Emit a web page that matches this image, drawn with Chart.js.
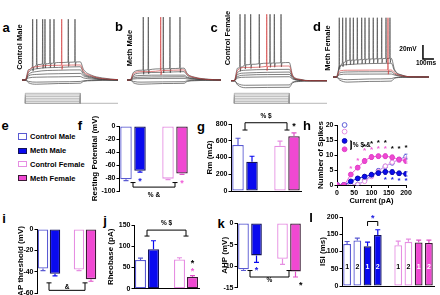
<!DOCTYPE html>
<html><head><meta charset="utf-8">
<script src="https://cdn.jsdelivr.net/npm/chart.js@4.4.1/dist/chart.umd.min.js"></script>
<style>
html,body{margin:0;padding:0;background:#fff;}
body{width:440px;height:295px;overflow:hidden;position:relative;font-family:'Liberation Sans',Arial,sans-serif;}
.tx{position:absolute;font-weight:bold;color:#000;white-space:nowrap;line-height:1;transform:translate(-50%,-50%);}
.pl{font-size:13px;}
.rl{font-size:7.5px;transform:translate(-50%,-50%) rotate(-90deg);}
.lg{position:absolute;font-size:7.5px;font-weight:bold;line-height:1;white-space:nowrap;transform:translateY(-50%);}
.sw{position:absolute;width:7px;height:4.5px;border:1.5px solid;}
</style></head><body>
<script>
// ---------------- DATA ----------------
const groups = ['Control Male','Meth Male','Control Female','Meth Female'];
const barSlots = ['Control Male','Meth Male','','Control Female','Meth Female'];

const restingPotential = [-82,-69,null,-81,-73];
const restingPotentialErr = [2,2,0,1.5,1.5];
const rmValues = [550,350,null,540,655];
const rmErr = [80,65,0,55,40];
const apThreshold = [-37,-42,null,-38,-47];
const apThresholdErr = [2,2,0,1,2];
const rheobase = [68,93,null,69,28];
const rheobaseErr = [4,20,0,4,3];
const ahp = [-10.7,-7.5,null,-8.3,-11.2];
const ahpErr = [0.3,1.6,0,1.3,1.3];

const isiSlots = ['Control Male 1','Control Male 2','Meth Male 1','Meth Male 2','','Control Female 1','Control Female 2','Meth Female 1','Meth Female 2'];
const isiValues = [122,132,115,148,null,118,128,126,125];
const isiErr = [7,7,12,15,0,12,8,7,8];
const isiBarLabels = ['1','2','1','2','','1','2','1','2'];

const currentSteps = [0,20,40,60,80,100,120,140,160,180,200];
const spikesControlMale   = [0,0,0,0.2,1.5,3.2,4.8,6.2,7.4,8.5,9.5];
const spikesMethMale      = [0,0,1.2,2.2,2.8,3.4,4.0,4.4,4.3,3.9,3.7];
const spikesControlFemale = [0,0,0,0.1,1.2,2.8,4.5,6.3,7.6,8.3,8.6];
const spikesMethFemale    = [0,0,3.5,5.8,8.0,9.3,9.6,9.6,9.2,8.5,8.0];
const errControlMale   = [0,0,0,0.2,0.4,0.5,0.6,0.6,0.7,0.7,0.8];
const errMethMale      = [0,0,0.3,0.6,0.7,0.8,0.8,0.9,0.8,0.7,0.7];
const errControlFemale = [0,0,0,0.1,0.4,0.5,0.6,0.6,0.7,0.7,0.7];
const errMethFemale    = [0,0,0.5,0.7,0.8,0.8,0.7,0.8,0.8,0.7,0.7];
const starsBlackX = [80,100,120,140,160,180,200];
const starsBlackY = [13.6,14.4,14.7,14.7,12.8,12.8,13.0];
const starsPinkX  = [40,60,80,100,120,140];
const starsPinkY  = [6.3,8.7,12.0,12.5,12.8,12.8];
const starsBlueX  = [140,160,180,200];
const starsBlueY  = [2.6,2.5,2.2,2.2];

// voltage traces (ms / mV)
const traceTimes = [-30,0,30,100,300,500,530,600,700,843];
const tracesA = [
 [-65,-65,-50,-43,-40,-39,-50,-58,-62,-64.5],
 [-65,-65,-52,-46,-44,-43.5,-53,-59,-63,-64.5],
 [-65,-65,-54,-49,-47,-46,-55,-60,-63,-65],
 [-65,-65,-57,-53,-51,-50.5,-57,-61,-64,-65],
 [-65,-65,-59,-57,-56,-55.5,-59,-62,-64,-65],
 [-65,-65,-62,-61,-60.5,-60,-62,-63.5,-64.5,-65],
 [-65,-65,-67,-68,-67.5,-67,-66,-65.5,-65,-65],
 [-65,-65,-69,-71,-70,-69.5,-67,-66,-65.5,-65]];
const spikesA = [67,104,158,179,225,261,391,452];
const redSpikesA = [331];
const tracesB = [
 [-65,-65,-54,-51,-49,-48,-56,-61,-63.5,-65],
 [-65,-65,-56,-53,-51.5,-50.5,-57,-61.5,-64,-65],
 [-65,-65,-58,-55,-54,-53,-58.5,-62,-64,-65],
 [-65,-65,-60,-58.5,-58,-58,-61,-63,-64.5,-65],
 [-65,-65,-62,-61,-60.5,-60.3,-62,-63.5,-64.5,-65],
 [-65,-65,-63.5,-63,-62.7,-62.6,-63.5,-64,-64.7,-65],
 [-65,-65,-67,-68,-67.6,-67.4,-66,-65.5,-65.2,-65],
 [-65,-65,-69,-71,-70,-69.7,-67,-66,-65.4,-65]];
const spikesB = [121,168,307,369,462];
const redSpikesB = [283];
const tracesC = [
 [-66,-66,-48,-43,-41,-40,-58,-64,-66,-66],
 [-66,-66,-51,-47,-45.5,-45,-59,-64.5,-66,-66],
 [-66,-66,-54,-51,-50,-49.7,-60,-65,-66,-66],
 [-66,-66,-57,-55,-54,-53.6,-61,-65,-66,-66],
 [-66,-66,-60,-58,-57.2,-57,-62.5,-65.5,-66,-66],
 [-66,-66,-62,-61,-60.5,-60.3,-63.5,-65.5,-66,-66],
 [-66,-66,-70,-72.5,-72.2,-72,-68,-66.5,-66,-66],
 [-66,-66,-72,-76,-75.6,-75.4,-69,-67,-66,-66]];
const spikesC = [52,97,149,227,325,364,425];
const redSpikesC = [295];
const tracesD = [
 [-60.7,-60.7,-42,-37,-35,-34,-50,-58,-60.5,-60.7],
 [-60.7,-60.7,-46,-43,-41.5,-41,-52,-58.5,-60.5,-60.7],
 [-60.7,-60.7,-52,-51,-50.8,-50.7,-55,-59,-60.5,-60.7],
 [-60.7,-60.7,-55,-53.5,-53.2,-53.1,-56.5,-59.5,-60.6,-60.7],
 [-60.7,-60.7,-57.5,-56.6,-56.5,-56.4,-58,-60,-60.6,-60.7],
 [-60.7,-60.7,-63,-64.5,-63.5,-63,-61.5,-61,-60.7,-60.7],
 [-60.7,-60.7,-65,-68,-67,-66.5,-62.5,-61.2,-60.8,-60.7]];
const spikesD = [27,58,88,125,155,191,231,261,298,336,373,413,452,488];
const redSpikesD = [470];
const protocolSteps = [0,20,40,60,80,100,120];
const scaleBarMs = 100, scaleBarMv = 20;

// ---------------- STYLE ----------------
const CM_B='#5a5ad2', MM_F='#0a0aef', MM_B='#12125a', CF_B='#e68ee2', MF_F='#f048d2', MF_B='#3a1a34';
const BLUE_STAR='#2020e0', PINK_STAR='#f060d8';
Chart.defaults.font.family="'Liberation Sans', Arial, sans-serif";
Chart.defaults.font.weight='bold';
Chart.defaults.color='#000';
Chart.defaults.animation=false;
Chart.defaults.responsive=false;
Chart.defaults.maintainAspectRatio=false;
Chart.defaults.plugins.legend.display=false;
Chart.defaults.plugins.tooltip.enabled=false;

function mkCanvas(l,t,w,h){const c=document.createElement('canvas');c.width=w;c.height=h;c.style.cssText=`position:absolute;left:${l}px;top:${t}px;width:${w}px;height:${h}px`;document.body.appendChild(c);return c;}
function txt(s,x,y,cls,extra){const d=document.createElement('div');d.className='tx '+(cls||'');d.textContent=s;d.style.left=x+'px';d.style.top=y+'px';if(extra)d.style.cssText+=extra;document.body.appendChild(d);return d;}

const annot={
 id:'annot',
 beforeDatasetsDraw(chart){
  const o=chart.options.plugins.annot;if(!o||!o.lineErr)return;
  const ctx=chart.ctx,ys=chart.scales.y;ctx.save();
  o.lineErr.forEach((errs,di)=>{
   const meta=chart.getDatasetMeta(di);ctx.strokeStyle=o.lineErrColors[di];ctx.lineWidth=0.8;
   meta.data.forEach((p,i)=>{const e=errs[i];if(!e)return;const v=chart.data.datasets[di].data[i].y;
    const a=ys.getPixelForValue(v+e),b=ys.getPixelForValue(v-e);
    ctx.beginPath();ctx.moveTo(p.x,a);ctx.lineTo(p.x,b);ctx.moveTo(p.x-1.5,a);ctx.lineTo(p.x+1.5,a);ctx.moveTo(p.x-1.5,b);ctx.lineTo(p.x+1.5,b);ctx.stroke();});
  });ctx.restore();
 },
 afterDatasetsDraw(chart){
  const o=chart.options.plugins.annot;if(!o)return;
  const ctx=chart.ctx,xs=chart.scales.x,ys=chart.scales.y;
  const X=v=>xs.getPixelForValue(v),Y=v=>ys.getPixelForValue(v);
  ctx.save();
  if(o.barErr){
   const meta=chart.getDatasetMeta(0);
   meta.data.forEach((el,i)=>{const v=chart.data.datasets[0].data[i],e=o.barErr[i];if(v==null||!e)return;
    const end=v<0?v-e:v+e,y1=Y(v),y2=Y(end);ctx.strokeStyle=o.errColors[i];ctx.lineWidth=1.2;
    ctx.beginPath();ctx.moveTo(el.x,y1);ctx.lineTo(el.x,y2);ctx.moveTo(el.x-2.5,y2);ctx.lineTo(el.x+2.5,y2);ctx.stroke();});
  }
  (o.brackets||[]).forEach(b=>{const x1=X(b.x1),x2=X(b.x2),yh=Y(b.y),yt=Y(b.y2);
   ctx.strokeStyle=b.c||'#000';ctx.lineWidth=1;ctx.beginPath();
   ctx.moveTo(x1,yt);ctx.lineTo(x1,yh);ctx.lineTo(x2,yh);ctx.lineTo(x2,yt);
   if(b.cap){ctx.moveTo(x1-2.5,yt);ctx.lineTo(x1+2.5,yt);ctx.moveTo(x2-2.5,yt);ctx.lineTo(x2+2.5,yt);}
   ctx.stroke();});
  (o.legendPts||[]).forEach(p=>{ctx.beginPath();ctx.arc(X(p.x),Y(p.y),2.4,0,Math.PI*2);ctx.fillStyle=p.fill;ctx.fill();ctx.strokeStyle=p.stroke;ctx.lineWidth=1;ctx.stroke();});
  (o.texts||[]).forEach(t=>{const s=t.s||7;ctx.font=`bold ${s}px 'Liberation Sans', Arial, sans-serif`;ctx.fillStyle=t.c||'#000';ctx.textAlign=t.a||'center';ctx.textBaseline='middle';
   const dy=t.t==='*'?s*0.28:0;ctx.fillText(t.t,X(t.x),Y(t.y)+dy);});
  if(o.barTexts){const meta=chart.getDatasetMeta(0);ctx.font="bold 7px 'Liberation Sans', Arial, sans-serif";ctx.textAlign='center';ctx.textBaseline='middle';
   meta.data.forEach((el,i)=>{const s=o.barTexts[i];if(!s)return;ctx.fillStyle=o.barTextColors[i];ctx.fillText(s,el.x,Y(o.barTextY));});}
  ctx.restore();
 }
};

// ---------------- TRACE PANELS ----------------
function levelAt(vals,t){for(let j=1;j<traceTimes.length;j++){if(t<=traceTimes[j]){const t0=traceTimes[j-1],t1=traceTimes[j];return vals[j-1]+(vals[j]-vals[j-1])*(t-t0)/(t1-t0);}}return vals[vals.length-1];}
function traceChart(l,w,traces,redIdx,spikes,redSpikes,peak,xmax,extra){
 const c=mkCanvas(l,8,w,84);const ds=[];
 traces.forEach((vals,i)=>{
  const sp=i===0?spikes:(i===redIdx?redSpikes:[]);
  let pts=traceTimes.map((t,j)=>({x:t,y:vals[j]})).filter(p=>!sp.some(s=>p.x>=s-4&&p.x<=s+10));
  sp.forEach(s=>{const b=levelAt(vals,s);pts.push({x:s-3,y:b},{x:s,y:peak},{x:s+3,y:b-6},{x:s+9,y:b});});
  pts.sort((a,b)=>a.x-b.x);
  ds.push({data:pts,borderColor:i===redIdx?'#d03a3a':'#3a3a3a',borderWidth:0.65,pointRadius:0,cubicInterpolationMode:'monotone',order:i===redIdx?0:1});
 });
 if(extra)ds.push(extra);
 new Chart(c,{type:'line',data:{datasets:ds},options:{parsing:false,layout:{padding:0},scales:{x:{type:'linear',display:false,min:-30,max:xmax},y:{display:false,min:-82.1,max:37.9}}}});
}
function protocolChart(l,w){
 const c=mkCanvas(l,92,w,12);const ds=[];
 protocolSteps.forEach(I=>ds.push({data:[{x:0,y:0},{x:0,y:I},{x:500,y:I},{x:500,y:0}],borderColor:'#9a9a9a',borderWidth:0.7,pointRadius:0}));
 ds.push({data:[{x:0,y:0},{x:843,y:0}],borderColor:'#9a9a9a',borderWidth:0.7,pointRadius:0});
 new Chart(c,{type:'line',data:{datasets:ds},options:{parsing:false,layout:{padding:0},scales:{x:{type:'linear',display:false,min:-30,max:843},y:{display:false,min:-8.4,max:135.6}}}});
}
traceChart(22,96,tracesA,1,spikesA,redSpikesA,22,843);
traceChart(127,94,tracesB,1,spikesB,redSpikesB,25,843);
traceChart(231,96,tracesC,1,spikesC,redSpikesC,29,843);
traceChart(333,102,tracesD,2,spikesD,redSpikesD,24,897.6,
 {data:[{x:788,y:-15},{x:788,y:-15-scaleBarMv},{x:788+scaleBarMs,y:-15-scaleBarMv}],borderColor:'#000',borderWidth:1.5,pointRadius:0,order:-1});
protocolChart(22,96);
protocolChart(231,96);

txt('a',6,27,'pl');txt('b',119,26,'pl');txt('c',214,27,'pl');txt('d',317,26,'pl');
txt('Control Male',20,47,'rl');txt('Meth Male',130,48,'rl');txt('Control Female',228,38,'rl');txt('Meth Female',328,48,'rl');
txt('20mV',408,49,'','font-size:6.5px');txt('100ms',426,63,'','font-size:6.5px');

// ---------------- LEGEND e ----------------
txt('e',5,125,'pl');
const swFill=['#fff',MM_F,'#fff',MF_F],swBorder=[CM_B,MM_B,CF_B,MF_B],swY=[137,151.3,164.7,178.7];
groups.forEach((g,i)=>{const s=document.createElement('div');s.className='sw';s.style.left='18px';s.style.top=(swY[i]-3.75)+'px';s.style.background=swFill[i];s.style.borderColor=swBorder[i];document.body.appendChild(s);
 const d=document.createElement('div');d.className='lg';d.textContent=g;d.style.left='30px';d.style.top=swY[i]+'px';document.body.appendChild(d);});

// ---------------- BAR PANELS ----------------
const fill5=['#fff',MM_F,'#fff','#fff',MF_F],border5=[CM_B,MM_B,'#fff',CF_B,MF_B],err5=[CM_B,MM_F,'#fff',CF_B,'#e050c8'];
function barChart(o){
 const c=mkCanvas(o.l,o.t,o.w,o.h);
 return new Chart(c,{type:'bar',
  data:{labels:o.labels,datasets:[{data:o.values,backgroundColor:o.fill,borderColor:o.border,borderWidth:1.3,borderSkipped:false,categoryPercentage:1,barPercentage:o.bp}]},
  options:{layout:{padding:{top:o.pt,bottom:o.pb,left:0,right:o.pr}},
   scales:{
    x:{display:o.xLine,grid:{display:false,drawTicks:false},ticks:{display:false},border:{display:true,color:'#000',width:1},afterFit:s=>{s.height=0;}},
    y:{min:o.min,max:o.max,ticks:{stepSize:o.step,font:{size:7,weight:'bold'},color:'#000',padding:1},
       grid:{display:true,drawOnChartArea:false,drawTicks:true,tickLength:2.5,color:'#000',lineWidth:1},
       border:{display:true,color:'#000',width:1},
       title:{display:true,text:o.title,font:{size:8,weight:'bold'},color:'#000',padding:0},
       afterFit:s=>{s.width=o.yw;}}},
   plugins:{annot:o.annot}},
  plugins:[annot]});
}
// f
txt('f',80,125,'pl');
barChart({l:90,t:106,w:105,h:97,yw:29,pt:20,pb:12,pr:6,labels:barSlots,values:restingPotential,fill:fill5,border:border5,bp:0.82,
 min:-100,max:0,step:20,title:'Resting Potential (mV)',xLine:false,
 annot:{barErr:restingPotentialErr,errColors:err5,brackets:[{x1:0.5,x2:3.5,y:-94,y2:-87,cap:true}],
  texts:[{x:2,y:-106,t:'% &',s:6.5},{x:1,y:-81.5,t:'*',c:BLUE_STAR,s:9},{x:4,y:-84,t:'*',c:PINK_STAR,s:9}]}});
// g
txt('g',201,126,'pl');
barChart({l:205,t:110,w:104,h:87,yw:26,pt:14,pb:6,pr:8,labels:barSlots,values:rmValues,fill:fill5,border:border5,bp:0.82,
 min:0,max:800,step:200,title:'Rm (mΩ)',xLine:true,
 annot:{barErr:rmErr,errColors:err5,brackets:[{x1:0.5,x2:3.5,y:815,y2:728,cap:true}],
  texts:[{x:2,y:890,t:'% $',s:6.5},{x:4,y:800,t:'*',s:9}]}});
// h
txt('h',307,125,'pl');
(function(){
 const c=mkCanvas(316,119,100,86);
 const mk=(lab,vals,line,pf,ps,r)=>({label:lab,data:currentSteps.map((x,i)=>({x,y:vals[i]})),borderColor:line,borderWidth:1,pointBackgroundColor:pf,pointBorderColor:ps,pointBorderWidth:1,pointRadius:r,tension:0.3});
 new Chart(c,{type:'line',
  data:{datasets:[mk('Meth Female',spikesMethFemale,'#ee55d4',MF_F,'#e040c8',2.4),mk('Meth Male',spikesMethMale,'#1010d0',MM_F,'#0a0ab0',2.4),
   mk('Control Female',spikesControlFemale,'#f0a8ec','#fff','#e68ee2',2.2),mk('Control Male',spikesControlMale,'#8080e0','#fff','#6060d8',2.2)]},
  options:{layout:{padding:{top:6,right:10,bottom:0,left:0}},
   scales:{
    x:{type:'linear',min:0,max:200,ticks:{stepSize:50,font:{size:7,weight:'bold'},color:'#000',padding:1,maxRotation:0},grid:{display:true,drawOnChartArea:false,tickLength:3,color:'#000'},border:{color:'#000',width:1},
       title:{display:true,text:'Current (pA)',font:{size:7.5,weight:'bold'},color:'#000',padding:0},afterFit:s=>{s.height=20;}},
    y:{min:0,max:20,ticks:{stepSize:5,font:{size:7,weight:'bold'},color:'#000',padding:1},grid:{display:true,drawOnChartArea:false,tickLength:2.5,color:'#000'},border:{color:'#000',width:1},
       title:{display:true,text:'Number of Spikes',font:{size:8,weight:'bold'},color:'#000',padding:0},afterFit:s=>{s.width=21;}}},
   plugins:{annot:{
    lineErr:[errMethFemale,errMethMale,errControlFemale,errControlMale],lineErrColors:['#e040c8','#1010d0','#e68ee2','#6060d8'],
    legendPts:[{x:22,y:20,fill:'#fff',stroke:'#6060d8'},{x:22,y:17.8,fill:'#fff',stroke:'#e68ee2'},{x:22,y:14.7,fill:MM_F,stroke:'#0a0ab0'},{x:22,y:11.9,fill:MF_F,stroke:'#e040c8'}],
    brackets:[{x1:38,x2:41,y:14.7,y2:14.7},{x1:41,x2:41,y:11.9,y2:14.7},{x1:38,x2:41,y:11.9,y2:11.9}],
    texts:[{x:46,y:13.3,t:'% $ &',s:6.5,a:'left'}]
     .concat(starsBlackX.map((x,i)=>({x,y:starsBlackY[i],t:'*',s:8})))
     .concat(starsPinkX.map((x,i)=>({x,y:starsPinkY[i],t:'*',s:8,c:PINK_STAR})))
     .concat(starsBlueX.map((x,i)=>({x,y:starsBlueY[i],t:'*',s:8,c:BLUE_STAR})))}}},
  plugins:[annot]});
})();
// i
txt('i',4,218,'pl');
barChart({l:16,t:223,w:85,h:76,yw:21,pt:6,pb:6,pr:4,labels:barSlots,values:apThreshold,fill:fill5,border:border5,bp:0.87,
 min:-60,max:0,step:20,title:'AP threshold (mV)',xLine:false,
 annot:{barErr:apThresholdErr,errColors:err5,brackets:[{x1:0.5,x2:3.5,y:-57.5,y2:-50.5,cap:true}],texts:[{x:2,y:-55,t:'&',s:6.5}]}});
// j
txt('j',105,220,'pl');
barChart({l:106,t:219,w:97,h:75,yw:28,pt:6,pb:4,pr:4,labels:barSlots,values:rheobase,fill:fill5,border:border5,bp:0.85,
 min:0,max:150,step:50,title:'Rheobase (pA)',xLine:true,
 annot:{barErr:rheobaseErr,errColors:err5,brackets:[{x1:0.5,x2:3.5,y:138,y2:124,cap:true}],
  texts:[{x:2,y:155,t:'% $',s:6.5},{x:4,y:66,t:'*',s:9},{x:4,y:47,t:'*',s:9,c:PINK_STAR}]}});
// k
txt('k',221,223,'pl');
barChart({l:220,t:217,w:88,h:76,yw:17,pt:6,pb:5,pr:6,labels:barSlots,values:ahp,fill:fill5,border:border5,bp:0.82,
 min:-15,max:0,step:5,title:'AHP (mV)',xLine:false,
 annot:{barErr:ahpErr,errColors:err5,brackets:[{x1:0.5,x2:3.5,y:-12.5,y2:-11,cap:true}],
  texts:[{x:2,y:-13.3,t:'%',s:6.5},{x:1,y:-10.3,t:'*',s:9,c:BLUE_STAR},{x:4.4,y:-14,t:'*',s:9}]}});
// l
txt('l',311,217,'pl');
barChart({l:318,t:211,w:120,h:81,yw:24,pt:6,pb:6,pr:4,labels:isiSlots,values:isiValues,
 fill:['#fff','#fff',MM_F,MM_F,'#fff','#fff','#fff',MF_F,MF_F],border:[CM_B,CM_B,MM_B,MM_B,'#fff',CF_B,CF_B,MF_B,MF_B],bp:0.76,
 min:0,max:200,step:50,title:'ISI (ms)',xLine:true,
 annot:{barErr:isiErr,errColors:[CM_B,CM_B,MM_F,MM_F,'#fff',CF_B,CF_B,'#e050c8','#e050c8'],
  brackets:[{x1:2,x2:3,y:187,y2:174}],texts:[{x:2.5,y:203,t:'*',s:9,c:BLUE_STAR}],
  barTexts:isiBarLabels,barTextColors:['#000','#000','#fff','#fff','#000','#000','#000','#fff','#fff'],barTextY:55}});
</script></body></html>
